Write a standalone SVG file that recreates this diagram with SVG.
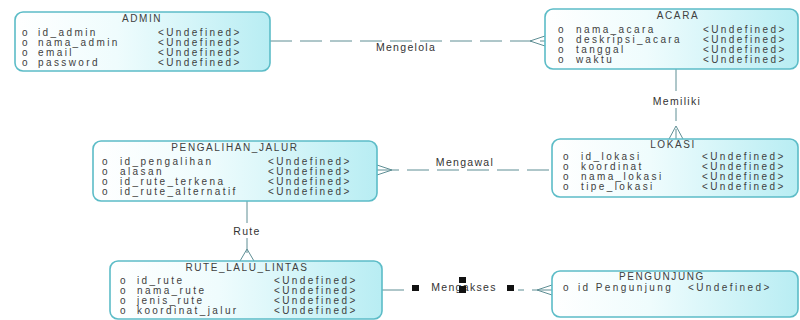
<svg xmlns="http://www.w3.org/2000/svg" width="800" height="320" viewBox="0 0 800 320">
<defs>
<linearGradient id="g" x1="0" y1="0" x2="1" y2="0">
<stop offset="0" stop-color="#ffffff"/>
<stop offset="0.4" stop-color="#effcfd"/>
<stop offset="1" stop-color="#b8edf3"/>
</linearGradient>
<style>
.box{fill:url(#g);stroke:#5cbcc7;stroke-width:1.6}
text{font-family:"Liberation Sans",Arial,sans-serif;fill:#404040}
.t{font-size:10px;letter-spacing:1.6px;text-anchor:middle}
.f{font-size:10px;letter-spacing:2.4px}
.lbl{font-size:10.5px;letter-spacing:1.3px;text-anchor:middle;fill:#333}
.ln{fill:none;stroke:#5e8e94;stroke-width:1}
.d{stroke-dasharray:22 8}
.bg{fill:#ffffff}
.h{fill:#111}
</style>
</defs>
<rect width="800" height="320" fill="#ffffff"/>
<g id="connectors">
<path class="ln d" d="M270 41 H545"/>
<path class="ln" d="M530 41 L545 36 M530 41 L545 46"/>
<text class="lbl" x="406" y="51">Mengelola</text>
<path class="ln d" d="M676 69 V139"/>
<path class="ln" d="M676 126 L669 139 M676 126 L683 139"/>
<rect class="bg" x="648" y="95" width="58" height="13"/>
<text class="lbl" x="677" y="105">Memiliki</text>
<path class="ln d" d="M377 170 H552"/>
<path class="ln" d="M392 170 L377 165 M392 170 L377 175"/>
<text class="lbl" x="465" y="166">Mengawal</text>
<path class="ln d" d="M247 201 V261"/>
<path class="ln" d="M247 249 L240 261 M247 249 L254 261"/>
<rect class="bg" x="229" y="225" width="36" height="13"/>
<text class="lbl" x="247" y="235">Rute</text>
<path class="ln d" d="M382 290 H552"/>
<path class="ln" d="M537 290 L552 285 M537 290 L552 295"/>
<rect class="bg" x="408" y="281" width="110" height="13"/>
<text class="lbl" x="464" y="291">Mengakses</text>
<rect class="h" x="412" y="285" width="7" height="6"/>
<rect class="h" x="507" y="285" width="7" height="6"/>
<rect class="h" x="459" y="277" width="7" height="6"/>
<rect class="h" x="459" y="286" width="7" height="7"/>
</g>
<g id="admin">
<rect class="box" x="15" y="12" width="255" height="59" rx="8"/>
<text class="t" x="142" y="22">ADMIN</text>
<text class="f" x="22" y="36">o</text><text class="f" x="38" y="36">id_admin</text><text class="f" x="158" y="36">&lt;Undefined&gt;</text>
<text class="f" x="22" y="46">o</text><text class="f" x="38" y="46">nama_admin</text><text class="f" x="158" y="46">&lt;Undefined&gt;</text>
<text class="f" x="22" y="56">o</text><text class="f" x="38" y="56">email</text><text class="f" x="158" y="56">&lt;Undefined&gt;</text>
<text class="f" x="22" y="66">o</text><text class="f" x="38" y="66">password</text><text class="f" x="158" y="66">&lt;Undefined&gt;</text>
</g>
<g id="acara">
<rect class="box" x="545" y="9" width="253" height="60" rx="8"/>
<text class="t" x="678" y="19">ACARA</text>
<text class="f" x="558" y="33">o</text><text class="f" x="576" y="33">nama_acara</text><text class="f" x="703" y="33">&lt;Undefined&gt;</text>
<text class="f" x="558" y="43">o</text><text class="f" x="576" y="43">deskripsi_acara</text><text class="f" x="703" y="43">&lt;Undefined&gt;</text>
<text class="f" x="558" y="53">o</text><text class="f" x="576" y="53">tanggal</text><text class="f" x="703" y="53">&lt;Undefined&gt;</text>
<text class="f" x="558" y="63">o</text><text class="f" x="576" y="63">waktu</text><text class="f" x="703" y="63">&lt;Undefined&gt;</text>
</g>
<g id="pengalihan_jalur">
<rect class="box" x="93" y="141" width="284" height="60" rx="8"/>
<text class="t" x="235" y="151">PENGALIHAN_JALUR</text>
<text class="f" x="102" y="165">o</text><text class="f" x="120" y="165">id_pengalihan</text><text class="f" x="268" y="165">&lt;Undefined&gt;</text>
<text class="f" x="102" y="175">o</text><text class="f" x="120" y="175">alasan</text><text class="f" x="268" y="175">&lt;Undefined&gt;</text>
<text class="f" x="102" y="185">o</text><text class="f" x="120" y="185">id_rute_terkena</text><text class="f" x="268" y="185">&lt;Undefined&gt;</text>
<text class="f" x="102" y="195">o</text><text class="f" x="120" y="195">id_rute_alternatif</text><text class="f" x="268" y="195">&lt;Undefined&gt;</text>
</g>
<g id="lokasi">
<rect class="box" x="552" y="139" width="246" height="58" rx="8"/>
<text class="t" x="673" y="148">LOKASI</text>
<text class="f" x="563" y="160">o</text><text class="f" x="581" y="160">id_lokasi</text><text class="f" x="702" y="160">&lt;Undefined&gt;</text>
<text class="f" x="563" y="170">o</text><text class="f" x="581" y="170">koordinat</text><text class="f" x="702" y="170">&lt;Undefined&gt;</text>
<text class="f" x="563" y="180">o</text><text class="f" x="581" y="180">nama_lokasi</text><text class="f" x="702" y="180">&lt;Undefined&gt;</text>
<text class="f" x="563" y="190">o</text><text class="f" x="581" y="190">tipe_lokasi</text><text class="f" x="702" y="190">&lt;Undefined&gt;</text>
</g>
<g id="rute_lalu_lintas">
<rect class="box" x="110" y="261" width="272" height="58" rx="8"/>
<text class="t" x="247" y="271">RUTE_LALU_LINTAS</text>
<text class="f" x="120" y="284">o</text><text class="f" x="137" y="284">id_rute</text><text class="f" x="274" y="284">&lt;Undefined&gt;</text>
<text class="f" x="120" y="294">o</text><text class="f" x="137" y="294">nama_rute</text><text class="f" x="274" y="294">&lt;Undefined&gt;</text>
<text class="f" x="120" y="304">o</text><text class="f" x="137" y="304">jenis_rute</text><text class="f" x="274" y="304">&lt;Undefined&gt;</text>
<text class="f" x="120" y="314">o</text><text class="f" x="137" y="314">koordinat_jalur</text><text class="f" x="274" y="314">&lt;Undefined&gt;</text>
</g>
<g id="pengunjung">
<rect class="box" x="552" y="271" width="246" height="46" rx="8"/>
<text class="t" x="662" y="280">PENGUNJUNG</text>
<text class="f" x="563" y="291">o</text><text class="f" x="578" y="291">id Pengunjung</text><text class="f" x="688" y="291">&lt;Undefined&gt;</text>
</g>
</svg>
